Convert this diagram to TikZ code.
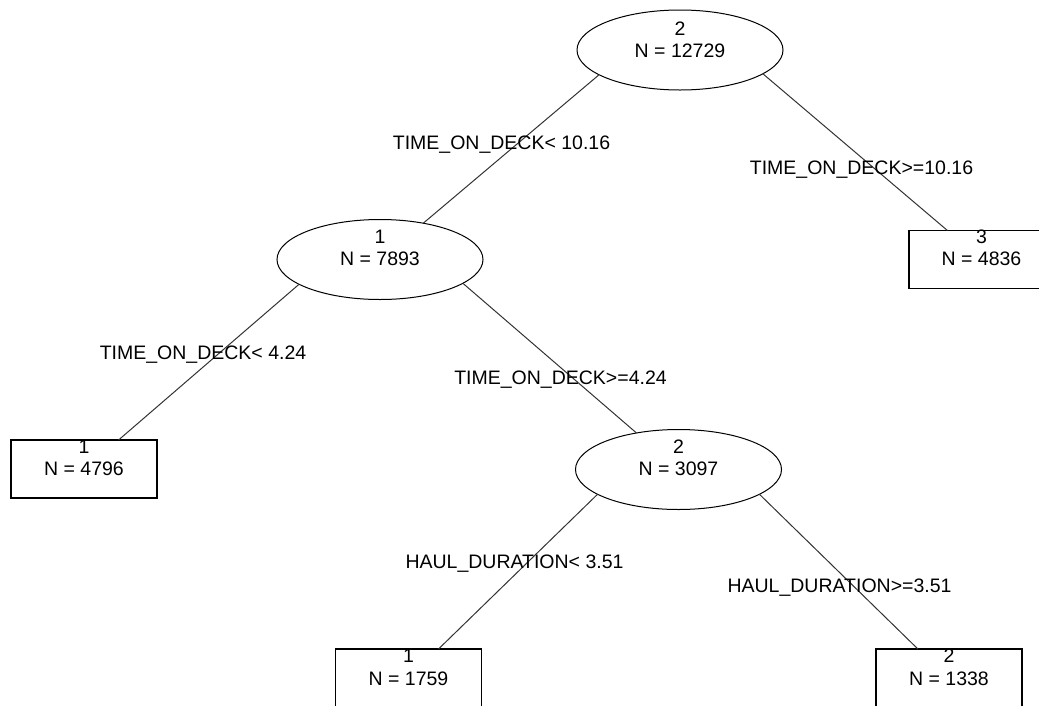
\documentclass[tikz,border=0pt]{standalone}
\usepackage{fontspec}
\setmainfont{Liberation Sans}
\usetikzlibrary{shapes.geometric,calc}
\begin{document}
\begin{tikzpicture}[x=1pt,y=-1pt,
  every node/.style={font=\fontsize{19.5}{22.5}\selectfont},
  splitnode/.style={draw=black, line width=1pt, ellipse, minimum width=206pt, minimum height=80pt, inner sep=0pt, outer sep=0pt},
  leafnode/.style={draw=black, line width=1.2pt, rectangle, minimum width=146pt, minimum height=58pt, inner sep=0pt, outer sep=0pt},
  nodetext/.style={align=center, inner sep=0pt, text=black},
  edge/.style={draw=black!80, line width=1pt},
  cond/.style={anchor=base, inner sep=0pt, text=black}]
\useasboundingbox (0,0) rectangle (1039,705);
\clip (0,0) rectangle (1039,705);
\fill[white] (0,0) rectangle (1039,705);
% shapes
\node[splitnode] (root) at (680,50) {};
\node[splitnode] (n1) at (380,259.5) {};
\node[splitnode] (n3) at (678.5,469.5) {};
\node[leafnode] (leaf3) at (982,259.5) {};
\node[leafnode] (leafA) at (84,469) {};
\node[leafnode] (leafB) at (408.5,678) {};
\node[leafnode] (leafC) at (949,678) {};
% connectors
\draw[edge] (root.197) -- (n1.40);
\draw[edge] (root.344) -- (leaf3.140);
\draw[edge] (n1.197) -- (leafA.40.5);
\draw[edge] (n1.344) -- (n3.139);
\draw[edge] (n3.197) -- (leafB.44.5);
\draw[edge] (n3.343) -- (leafC.137);
% node texts
\node[nodetext] (root-t) at ($(root)+(0,-10)$) {2\\N = 12729};
\node[nodetext] (n1-t) at ($(n1)+(0,-11.5)$) {1\\N = 7893};
\node[nodetext] (n3-t) at ($(n3)+(0,-11.5)$) {2\\N = 3097};
\node[nodetext] (leaf3-t) at ($(leaf3)+(-0.5,-11.5)$) {3\\N = 4836};
\node[nodetext] (leafA-t) at ($(leafA)+(0,-11)$) {1\\N = 4796};
\node[nodetext] (leafB-t) at ($(leafB)+(0,-10.5)$) {1\\N = 1759};
\node[nodetext] (leafC-t) at ($(leafC)+(0,-10.5)$) {2\\N = 1338};
% split conditions
\node[cond] (c1) at (501.5,149) {TIME\_ON\_DECK< 10.16};
\node[cond] (c2) at (861.5,174) {TIME\_ON\_DECK>=10.16};
\node[cond] (c3) at (203,359) {TIME\_ON\_DECK< 4.24};
\node[cond] (c4) at (560.5,384) {TIME\_ON\_DECK>=4.24};
\node[cond] (c5) at (514.5,568) {HAUL\_DURATION< 3.51};
\node[cond] (c6) at (839.5,592) {HAUL\_DURATION>=3.51};
\end{tikzpicture}
\end{document}
